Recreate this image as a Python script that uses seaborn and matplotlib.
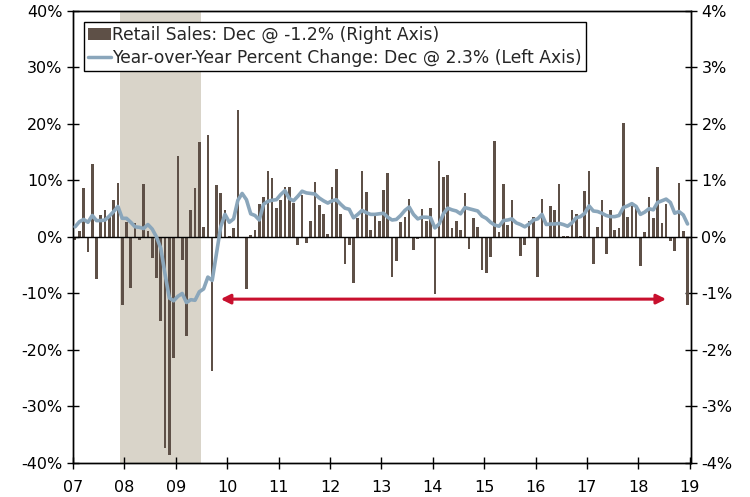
import matplotlib
matplotlib.use("Agg")
import matplotlib.pyplot as plt
import numpy as np
import pandas as pd
import seaborn as sns
from matplotlib.patches import Patch
from matplotlib.lines import Line2D

sns.set_theme(style="white")
plt.rcParams["font.family"] = ["DejaVu Sans"]

# monthly retail sales, % change m/m (right axis), Jan 2007 - Dec 2018
mom_2007 = [-0.05, 0.10, 0.86, -0.26, 1.30, -0.74, 0.39, 0.47, 0.39, 0.65, 0.96, -1.20]
mom_2008 = [0.26, -0.90, 0.24, -0.05, 0.94, 0.10, -0.38, -0.73, -1.49, -3.74, -3.85, -2.14]
mom_2009 = [1.44, -0.41, -1.75, 0.48, 0.87, 1.68, 0.18, 1.80, -2.37, 0.92, 0.78, 0.48]
mom_2010 = [0.01, 0.16, 2.24, 0.00, -0.92, 0.03, 0.12, 0.58, 0.71, 1.16, 1.04, 0.51]
mom_2011 = [0.66, 0.88, 0.89, 0.60, -0.14, 0.75, -0.11, 0.29, 0.97, 0.57, 0.41, 0.05]
mom_2012 = [0.88, 1.20, 0.40, -0.48, -0.15, -0.81, 0.33, 1.16, 0.80, 0.12, 0.38, 0.28]
mom_2013 = [0.84, 1.13, -0.70, -0.43, 0.27, 0.35, 0.67, -0.23, -0.03, 0.50, 0.28, 0.52]
mom_2014 = [-1.01, 1.35, 1.06, 1.09, 0.15, 0.29, 0.12, 0.78, -0.22, 0.33, 0.18, -0.59]
mom_2015 = [-0.63, -0.36, 1.69, 0.08, 0.94, 0.22, 0.66, 0.00, -0.33, -0.15, 0.29, 0.35]
mom_2016 = [-0.70, 0.68, -0.02, 0.55, 0.48, 0.94, 0.01, 0.02, 0.47, 0.41, 0.01, 0.82]
mom_2017 = [1.16, -0.47, 0.17, 0.65, -0.31, 0.48, 0.12, 0.15, 2.01, 0.36, 0.55, 0.51]
mom_2018 = [-0.52, 0.08, 0.71, 0.33, 1.24, 0.24, 0.59, -0.08, -0.24, 0.95, 0.11, -1.20]

# year-over-year % change (left axis)
yoy_2007 = [1.8, 2.7, 3.1, 2.6, 3.8, 2.9, 2.9, 3.0, 3.7, 4.5, 5.4, 3.3]
yoy_2008 = [3.3, 2.6, 1.8, 1.7, 1.5, 2.2, 1.4, 0.0, -2.0, -6.6, -10.8, -11.3]
yoy_2009 = [-10.5, -10.0, -11.6, -11.1, -11.2, -9.7, -9.2, -7.1, -7.7, -3.0, 1.8, 4.0]
yoy_2010 = [2.6, 3.2, 6.5, 7.7, 6.6, 4.1, 3.8, 3.0, 5.8, 6.3, 6.5, 6.6]
yoy_2011 = [7.5, 8.2, 6.8, 6.4, 7.2, 8.1, 7.8, 7.7, 7.6, 6.9, 6.4, 6.0]
yoy_2012 = [6.4, 6.6, 5.8, 5.1, 4.9, 3.4, 4.0, 4.7, 4.3, 4.0, 4.0, 4.1]
yoy_2013 = [4.2, 3.5, 3.0, 3.1, 3.8, 4.7, 5.3, 4.0, 3.2, 3.5, 3.5, 3.4]
yoy_2014 = [1.6, 2.3, 4.1, 5.1, 4.8, 4.6, 4.1, 5.2, 5.0, 4.8, 4.6, 3.7]
yoy_2015 = [3.3, 2.6, 2.1, 1.9, 2.9, 3.0, 3.2, 2.5, 2.2, 1.8, 2.3, 3.0]
yoy_2016 = [3.2, 4.0, 2.2, 2.3, 2.3, 2.4, 2.2, 1.9, 2.5, 3.4, 3.6, 4.2]
yoy_2017 = [5.5, 4.6, 4.5, 4.2, 3.8, 3.6, 3.6, 3.8, 5.2, 5.5, 5.9, 5.4]
yoy_2018 = [4.0, 4.4, 5.0, 4.8, 6.1, 6.4, 6.7, 6.1, 4.2, 4.5, 3.9, 2.3]

year_labels = ["07", "08", "09", "10", "11", "12", "13", "14", "15", "16", "17", "18", "19"]
left_ticks = [-40, -30, -20, -10, 0, 10, 20, 30, 40]
right_ticks = [-4, -3, -2, -1, 0, 1, 2, 3, 4]
recession = ("2007-12", "2009-06")
arrow_span = ("2009-11", "2018-07")
arrow_level = -11

mom = sum([mom_2007, mom_2008, mom_2009, mom_2010, mom_2011, mom_2012,
           mom_2013, mom_2014, mom_2015, mom_2016, mom_2017, mom_2018], [])
yoy = sum([yoy_2007, yoy_2008, yoy_2009, yoy_2010, yoy_2011, yoy_2012,
           yoy_2013, yoy_2014, yoy_2015, yoy_2016, yoy_2017, yoy_2018], [])

dates = pd.date_range("2007-01-01", periods=len(mom), freq="MS")
df = pd.DataFrame({"date": dates, "mom": mom, "yoy": yoy})
# months since Jan 2007, bars centred mid-month
df["idx"] = np.arange(len(df))
df["pos"] = df["idx"] + 0.5


def month_pos(s):
    d = pd.Timestamp(s)
    return (d.year - 2007) * 12 + d.month - 1 + 0.5


BAR = "#5e5047"
LINE = "#8aa6bb"
SHADE = "#d9d4c9"
RED = "#c8102e"

fig = plt.figure(figsize=(7.5, 4.97), dpi=100)
ax2 = fig.add_axes([0.0973, 0.0684, 0.8240, 0.9096])
ax = ax2.twinx()
ax.yaxis.tick_left()
ax2.yaxis.tick_right()
ax.set_zorder(ax2.get_zorder() + 1)
ax.patch.set_visible(False)

# recession shading & bars on the right axis
ax2.axvspan(month_pos(recession[0]) - 0.5, month_pos(recession[1]) + 0.5,
            color=SHADE, lw=0, zorder=0)
sns.barplot(data=df, x="idx", y="mom", native_scale=True, color=BAR,
            saturation=1, width=0.6, errorbar=None, ax=ax2, zorder=2)
# shift bars to mid-month and fix their width
for p in ax2.patches[1:] if len(ax2.patches) > len(df) else ax2.patches:
    c = p.get_x() + p.get_width() / 2 + 0.5
    p.set_width(0.62)
    p.set_x(c - 0.31)
    p.set_linewidth(0)
ax2.axhline(0, color="black", lw=1, zorder=3)

# yoy line on the left axis
sns.lineplot(data=df, x="pos", y="yoy", color=LINE, lw=2.6, ax=ax, zorder=4)
ax.annotate("", xy=(month_pos(arrow_span[0]), arrow_level),
            xytext=(month_pos(arrow_span[1]), arrow_level),
            arrowprops=dict(arrowstyle="<|-|>", color=RED, lw=2.2,
                            mutation_scale=14, shrinkA=0, shrinkB=0))

xt = [12 * i for i in range(len(year_labels))]
for a in (ax, ax2):
    a.set_xlim(0, 144.3)
    a.set_xticks(xt)
    a.set_xticklabels(year_labels)
    a.set_xlabel("")
    a.set_ylabel("")
    a.grid(False)
    for sp in a.spines.values():
        sp.set_color("black")
        sp.set_linewidth(1)

ax.set_ylim(-40, 40)
ax.set_yticks(left_ticks)
ax.set_yticklabels([f"{t}%" for t in left_ticks])
ax2.set_ylim(-4, 4)
ax2.set_yticks(right_ticks)
ax2.set_yticklabels([f"{t}%" for t in right_ticks])

ax.tick_params(axis="y", direction="inout", length=8, width=1, labelsize=11.5,
               left=True, right=False, labelleft=True, labelright=False, colors="black")
ax2.tick_params(axis="y", direction="inout", length=8, width=1, labelsize=11.5,
                left=False, right=True, labelleft=False, labelright=True, colors="black")
ax2.tick_params(axis="x", direction="inout", length=8, width=1, labelsize=11.5,
                bottom=True, colors="black", pad=8)
ax.tick_params(axis="x", bottom=False, labelbottom=False)

handles = [Patch(facecolor=BAR, edgecolor="none"),
           Line2D([], [], color=LINE, lw=2.5)]
labels = ["Retail Sales: Dec @ -1.2% (Right Axis)",
          "Year-over-Year Percent Change: Dec @ 2.3% (Left Axis)"]
leg = ax.legend(handles, labels, loc="upper left", bbox_to_anchor=(0.018, 0.976),
                borderaxespad=0, fontsize=12.3, frameon=True, fancybox=False,
                edgecolor="black", framealpha=1, handlelength=1.3,
                handletextpad=0.1, borderpad=0.25, labelspacing=0.3)
leg.get_frame().set_linewidth(1)

fig.savefig("out.png", dpi=100)
